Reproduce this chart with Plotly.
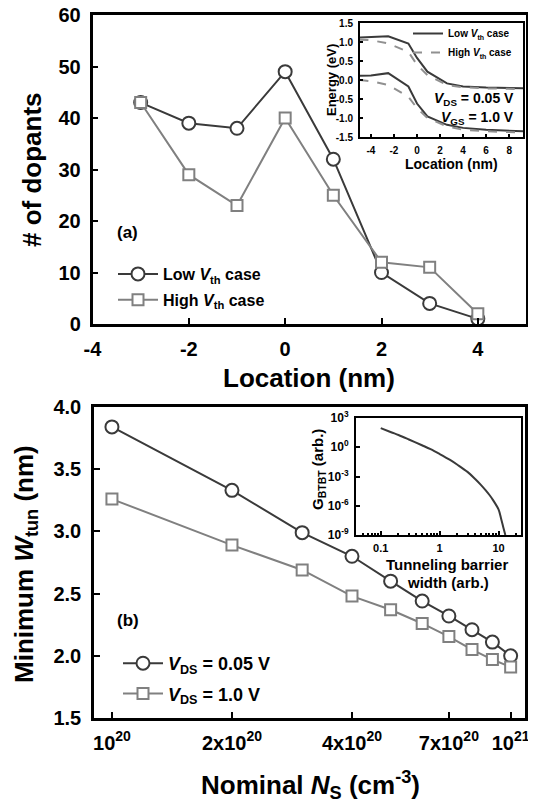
import plotly.graph_objects as go

W, H = 536, 803
OFF = 8  # page body margin offset in the browser
def px(x): return (x - OFF) / W
def py(y): return 1 - (y - OFF) / H

# ---------- Panel (a) data ----------
loc = [-3, -2, -1, 0, 1, 2, 3, 4]
low_vth = [43, 39, 38, 49, 32, 10, 4, 1]
high_vth = [43, 29, 23, 40, 25, 12, 11, 2]
loc_ticks = [-4, -2, 0, 2, 4]
loc_ticktext = ["-4", "-2", "0", "2", "4"]

# ---------- Inset (a) band-diagram data ----------
band_x = [-5, -4, -2.5, -0.75, 0, 0.9, 2.6, 4, 6, 9.2]
low_upper = [1.12, 1.13, 1.15, 0.96, 0.58, 0.22, -0.09, -0.17, -0.20, -0.22]
low_lower = [0.11, 0.12, 0.18, -0.17, -0.62, -0.96, -1.18, -1.26, -1.31, -1.35]
high_upper = [1.06, 1.05, 0.96, 0.74, 0.40, 0.13, -0.13, -0.19, -0.22, -0.24]
high_lower = [0.0, -0.03, -0.13, -0.44, -0.74, -1.0, -1.22, -1.31, -1.35, -1.38]
band_xticks = [-4, -2, 0, 2, 4, 6, 8]
band_xtext = ["-4", "-2", "0", "2", "4", "6", "8"]
energy_ticks = [-1.5, -1.0, -0.5, 0.0, 0.5, 1.0, 1.5]
energy_text = ["-1.5", "-1.0", "-0.5", "0.0", "0.5", "1.0", "1.5"]

# ---------- Panel (b) data ----------
ns = [1e20, 2e20, 3e20, 4e20, 5e20, 6e20, 7e20, 8e20, 9e20, 1e21]
w_vds005 = [3.84, 3.33, 2.99, 2.80, 2.60, 2.44, 2.32, 2.21, 2.11, 2.00]
w_vds10 = [3.26, 2.89, 2.69, 2.48, 2.37, 2.26, 2.155, 2.05, 1.97, 1.91]
ns_tickvals = [1e20, 2e20, 4e20, 7e20, 1e21]
ns_ticktext = ["10<sup>20</sup>", "2x10<sup>20</sup>", "4x10<sup>20</sup>",
               "7x10<sup>20</sup>", "10<sup>21</sup>"]

# ---------- Inset (b) data ----------
barrier_w = [0.1, 0.15, 0.2, 0.3, 0.5, 0.7, 1, 1.5, 2, 3, 4, 5, 6, 7, 8, 10, 11, 12, 13]
g_btbt = [93, 35, 18, 6.3, 1.6, 0.63, 0.2, 0.05, 0.016, 2.8e-3, 5.6e-4, 1.4e-4,
          4e-5, 1.26e-5, 4e-6, 4e-7, 5e-8, 6.3e-9, 1e-9]
g_tickvals = [1e3, 1, 1e-3, 1e-6, 1e-9]
g_ticktext = ["10<sup>3</sup>", "10<sup>0</sup>", "10<sup>-3</sup>",
              "10<sup>-6</sup>", "10<sup>-9</sup>"]

DARK = "#3a3a3a"
GRAY = "#808080"
FONT = "Liberation Sans, Arial, sans-serif"

fig = go.Figure()

# Panel (a)
fig.add_trace(go.Scatter(x=loc, y=low_vth, mode="lines+markers", name="Low <i>V</i><sub>th</sub> case",
                         line=dict(color=DARK, width=2),
                         marker=dict(symbol="circle", size=13, color="white", line=dict(color=DARK, width=2)),
                         cliponaxis=False, xaxis="x", yaxis="y", legend="legend", legendgroup="a1"))
fig.add_trace(go.Scatter(x=loc, y=high_vth, mode="lines+markers", name="High <i>V</i><sub>th</sub> case",
                         line=dict(color=GRAY, width=2),
                         marker=dict(symbol="square", size=11, color="white", line=dict(color=GRAY, width=2)),
                         cliponaxis=False, xaxis="x", yaxis="y", legend="legend", legendgroup="a2"))

# Inset (a)
fig.add_trace(go.Scatter(x=band_x, y=low_upper, mode="lines", name="Low <i>V</i><sub>th</sub> case",
                         line=dict(color=DARK, width=2), xaxis="x2", yaxis="y2", legend="legend3",
                         legendgroup="i1"))
fig.add_trace(go.Scatter(x=band_x, y=low_lower, mode="lines", showlegend=False,
                         line=dict(color=DARK, width=2), xaxis="x2", yaxis="y2", legendgroup="i1"))
fig.add_trace(go.Scatter(x=band_x, y=high_upper, mode="lines", name="High <i>V</i><sub>th</sub> case",
                         line=dict(color="#909090", width=2, dash="dash"), xaxis="x2", yaxis="y2",
                         legend="legend3", legendgroup="i2"))
fig.add_trace(go.Scatter(x=band_x, y=high_lower, mode="lines", showlegend=False,
                         line=dict(color="#909090", width=2, dash="dash"), xaxis="x2", yaxis="y2",
                         legendgroup="i2"))

# Panel (b)
fig.add_trace(go.Scatter(x=ns, y=w_vds005, mode="lines+markers", name="<i>V</i><sub>DS</sub> = 0.05 V",
                         line=dict(color=DARK, width=2),
                         marker=dict(symbol="circle", size=13, color="white", line=dict(color=DARK, width=2)),
                         cliponaxis=False, xaxis="x3", yaxis="y3", legend="legend2", legendgroup="b1"))
fig.add_trace(go.Scatter(x=ns, y=w_vds10, mode="lines+markers", name="<i>V</i><sub>DS</sub> = 1.0 V",
                         line=dict(color=GRAY, width=2),
                         marker=dict(symbol="square", size=11, color="white", line=dict(color=GRAY, width=2)),
                         cliponaxis=False, xaxis="x3", yaxis="y3", legend="legend2", legendgroup="b2"))

# Inset (b)
fig.add_trace(go.Scatter(x=barrier_w, y=g_btbt, mode="lines", showlegend=False,
                         line=dict(color=DARK, width=2, shape="spline"), xaxis="x4", yaxis="y4"))

axis_common = dict(showline=True, mirror=True, linecolor="black", showgrid=False,
                   zeroline=False, ticks="inside", tickcolor="black", automargin=False,
                   ticklabeloverflow="allow")

fig.update_layout(
    template="none",
    width=W, height=H, margin=dict(l=0, r=0, t=0, b=0, pad=0, autoexpand=False),
    paper_bgcolor="white", plot_bgcolor="white",
    font=dict(family=FONT, color="black", weight="bold"),
    xaxis=dict(axis_common, domain=[px(92.5), px(526)], anchor="y", range=[-4, 5],
               tickvals=loc_ticks, ticktext=loc_ticktext, ticklen=6, tickwidth=2, linewidth=2.5,
               tickfont=dict(size=20, weight="bold"), ticklabelstandoff=5),
    yaxis=dict(axis_common, domain=[py(324), py(15)], anchor="x", range=[0, 60],
               dtick=10, ticklen=6, tickwidth=2, linewidth=2.5,
               tickfont=dict(size=20, weight="bold"), ticklabelstandoff=5),
    xaxis2=dict(axis_common, domain=[px(360), px(523)], anchor="y2", range=[-4.95, 9.2],
                tickvals=band_xticks, ticktext=band_xtext, ticklen=3, tickwidth=1.5, linewidth=2,
                tickfont=dict(size=10, weight="bold"), ticklabelstandoff=3),
    yaxis2=dict(axis_common, domain=[py(137), py(23)], anchor="x2", range=[-1.5, 1.5],
                tickvals=energy_ticks, ticktext=energy_text, ticklen=3, tickwidth=1.5, linewidth=2,
                tickfont=dict(size=10, weight="bold"), ticklabelstandoff=3),
    xaxis3=dict(axis_common, domain=[px(94), px(525)], anchor="y3", type="log",
                range=[19.955, 21.036], tickvals=ns_tickvals, ticktext=ns_ticktext,
                ticklen=6, tickwidth=2, linewidth=2.5,
                tickfont=dict(size=20, weight="bold"), ticklabelstandoff=5),
    yaxis3=dict(axis_common, domain=[py(718), py(407)], anchor="x3", range=[1.5, 4.0],
                dtick=0.5, tickformat=".1f", ticklen=6, tickwidth=2, linewidth=2.5,
                tickfont=dict(size=20, weight="bold"), ticklabelstandoff=6),
    xaxis4=dict(axis_common, domain=[px(356), px(521)], anchor="y4", type="log",
                range=[-1.42, 1.38], tickvals=[0.1, 1, 10], ticktext=["0.1", "1", "10"],
                ticklen=4, tickwidth=1.5, linewidth=2,
                minor=dict(ticks="inside", ticklen=2, tickcolor="black", showgrid=False,
                           tickvals=[0.05, 0.06, 0.07, 0.08, 0.09, 0.2, 0.3, 0.4, 0.5, 0.6, 0.7, 0.8, 0.9,
                                     2, 3, 4, 5, 6, 7, 8, 9, 20]),
                tickfont=dict(size=11, weight="bold"), ticklabelstandoff=2),
    yaxis4=dict(axis_common, domain=[py(535), py(418)], anchor="x4", type="log",
                range=[-9, 3], tickvals=g_tickvals, ticktext=g_ticktext,
                ticklen=4, tickwidth=1.5, linewidth=2,
                tickfont=dict(size=12, weight="bold"), ticklabelstandoff=3),
    legend=dict(x=px(113), y=py(257), xanchor="left", yanchor="top", bgcolor="rgba(0,0,0,0)",
                font=dict(size=16, weight="bold"), tracegroupgap=2, itemwidth=40),
    legend2=dict(x=px(118), y=py(645), xanchor="left", yanchor="top", bgcolor="rgba(0,0,0,0)",
                 font=dict(size=18, weight="bold"), tracegroupgap=4, itemwidth=40),
    legend3=dict(x=px(408), y=py(19), xanchor="left", yanchor="top", bgcolor="rgba(0,0,0,0)",
                 font=dict(size=10, weight="bold"), tracegroupgap=0, itemwidth=30),
    showlegend=True,
)

ann = []
def A(text, x, y, size, angle=0, xanchor="center", yanchor="middle"):
    ann.append(dict(text=text, x=px(x), y=py(y), xref="paper", yref="paper", showarrow=False,
                    textangle=angle, xanchor=xanchor, yanchor=yanchor,
                    font=dict(size=size, family=FONT, color="black", weight="bold")))

A("# of dopants", 32, 170, 26, angle=-90)
A("Location (nm)", 309, 378, 26)
A("(a)", 127, 232, 17)
A("Energy (eV)", 331, 80, 13, angle=-90)
A("Location (nm)", 451, 164, 14)
A("<i>V</i><sub>DS</sub> = 0.05 V", 516, 99, 14, xanchor="right")
A("<i>V</i><sub>GS</sub> = 1.0 V", 516, 118, 14, xanchor="right")
A("Minimum <i>W</i><sub>tun</sub> (nm)", 25, 564, 26, angle=-90)
A("Nominal <i>N</i><sub>S</sub> (cm<sup>-3</sup>)", 310, 785, 26)
A("(b)", 128, 620, 17)
A("G<sub>BTBT</sub> (arb.)", 318, 470, 15, angle=-90)
A("Tunneling barrier", 447, 564, 15)
A("width (arb.)", 448, 582, 15)
fig.update_layout(annotations=ann)

fig.write_html("out.html")
